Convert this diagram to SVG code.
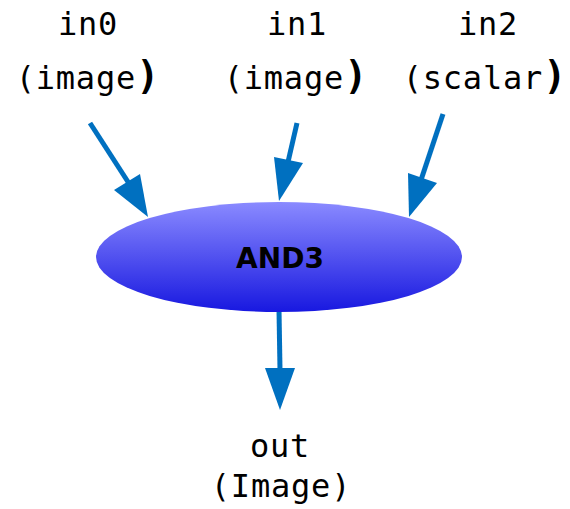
<svg xmlns="http://www.w3.org/2000/svg" width="570" height="509" viewBox="0 0 570 509">
<style>
.lbl{font-family:"DejaVu Sans Mono","Liberation Mono",monospace;font-size:32px;fill:#000;text-anchor:middle;letter-spacing:0.8px}
.big{font-size:39px;font-weight:600}
.edge{stroke:#0070c0;stroke-width:5;fill:none}
.head{fill:#0070c0}
.title{font-family:"DejaVu Sans","Liberation Sans",sans-serif;font-size:28px;font-weight:bold;fill:#000;text-anchor:middle}
</style>
<defs>
<linearGradient id="g" x1="0" y1="0" x2="0" y2="1">
<stop offset="0" stop-color="#8a8aff"/>
<stop offset="1" stop-color="#1818e0"/>
</linearGradient>
</defs>
<g id="connectors">
<line class="edge" x1="90" y1="123" x2="130" y2="185"/>
<polygon class="head" points="148,217 114,190 140,174"/>
<line class="edge" x1="297" y1="123" x2="288" y2="162"/>
<polygon class="head" points="279,201 274,157 303,163"/>
<line class="edge" x1="443" y1="114" x2="421" y2="180"/>
<polygon class="head" points="409,217 408,173 437,183"/>
<line class="edge" x1="279" y1="310" x2="280" y2="370"/>
<polygon class="head" points="280,410 265,368 295,368"/>
</g>
<g id="AND3">
<ellipse cx="279" cy="257" rx="183" ry="55" fill="url(#g)"/>
<text class="title" x="280" y="268">AND3</text>
</g>
<g id="in0">
<text class="lbl" x="88" y="35">in0</text>
<text class="lbl" x="88" y="89">(image<tspan class="big">)</tspan></text>
</g>
<g id="in1">
<text class="lbl" x="297" y="35">in1</text>
<text class="lbl" x="296" y="89">(image<tspan class="big">)</tspan></text>
</g>
<g id="in2">
<text class="lbl" x="488" y="35">in2</text>
<text class="lbl" x="485" y="89">(scalar<tspan class="big">)</tspan></text>
</g>
<g id="out">
<text class="lbl" x="280" y="457">out</text>
<text class="lbl" x="281" y="497">(Image)</text>
</g>
</svg>
